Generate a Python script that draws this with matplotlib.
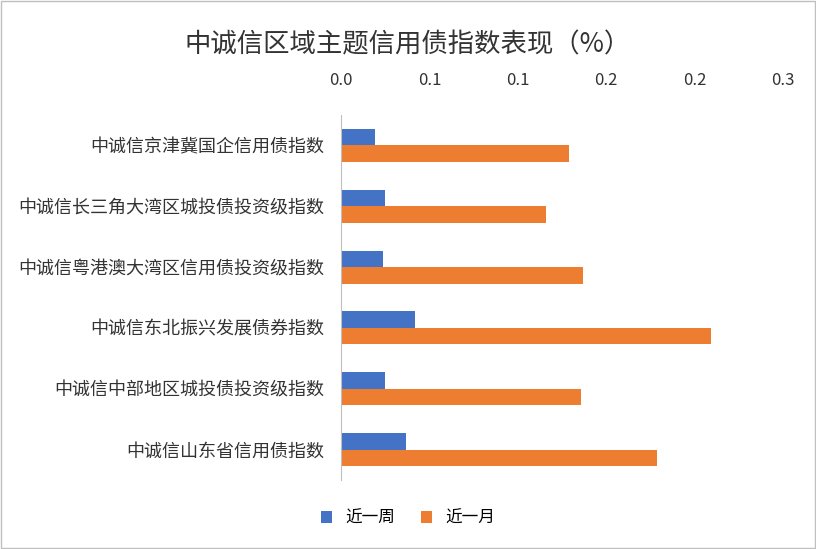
import matplotlib
matplotlib.use("Agg")
import matplotlib.pyplot as plt
import numpy as np

plt.rcParams['font.family'] = ['Noto Sans CJK SC', 'DejaVu Sans']

categories = ["中诚信京津冀国企信用债指数", "中诚信长三角大湾区城投债投资级指数",
              "中诚信粤港澳大湾区信用债投资级指数", "中诚信东北振兴发展债券指数",
              "中诚信中部地区城投债投资级指数", "中诚信山东省信用债指数"]
week = [0.019, 0.025, 0.024, 0.042, 0.025, 0.037]
month = [0.129, 0.116, 0.137, 0.209, 0.136, 0.179]
tick_vals = [0, 0.05, 0.10, 0.15, 0.20, 0.25]
tick_labels = ["0.0", "0.1", "0.1", "0.2", "0.2", "0.3"]

fig = plt.figure(figsize=(8.16, 5.49), dpi=100)
ax = fig.add_axes([341/816, 1-480/549, 442/816, (480-115)/549])
y = np.arange(len(categories))
h = 0.27
ax.barh(y - h/2, week, height=h, color='#4472C4', label='近一周')
ax.barh(y + h/2, month, height=h, color='#ED7D31', label='近一月')
ax.set_ylim(len(categories) - 0.5, -0.5)
ax.set_xlim(0, 0.25)
ax.set_xticks(tick_vals)
ax.set_xticklabels(tick_labels, fontsize=12, color='#333333')
ax.xaxis.tick_top()
ax.tick_params(axis='x', length=0, pad=19)
ax.set_yticks(y)
ax.set_yticklabels(categories, fontsize=13, color='#333333')
ax.tick_params(axis='y', length=0, pad=12)
for s in ['top', 'right', 'bottom']:
    ax.spines[s].set_visible(False)
ax.spines['left'].set_color('#BFBFBF')
fig.text(0.5, 1-45/549, "中诚信区域主题信用债指数表现（%）", ha='center', va='center', fontsize=19, color='#333333')
fig.legend(loc='center', bbox_to_anchor=(0.5, 1-518/549), ncol=2, frameon=False, fontsize=12,
           handlelength=0.7, handleheight=0.7, columnspacing=1.5)
fig.patches.append(plt.Rectangle((0.001, 0.001), 0.998, 0.998, transform=fig.transFigure,
                                 fill=False, edgecolor='#BFBFBF', linewidth=1))
fig.savefig("out.png", dpi=100)
